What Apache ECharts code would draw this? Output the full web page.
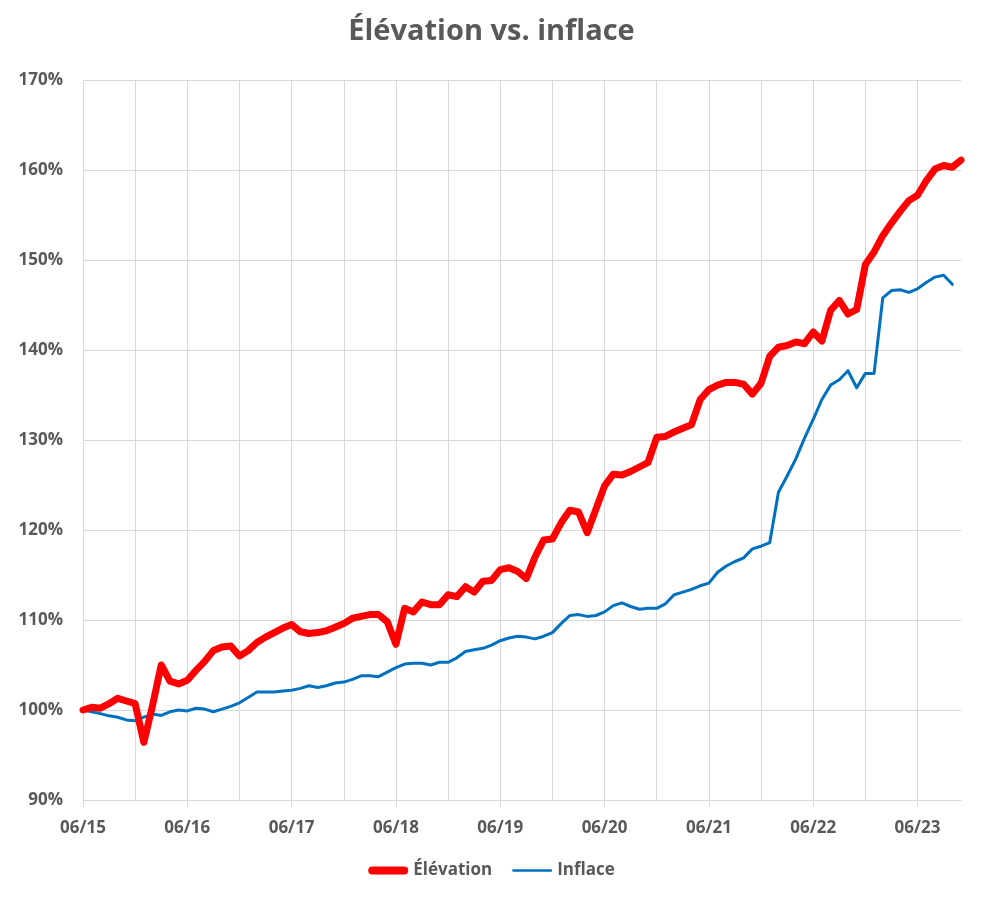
<!DOCTYPE html>
<html>
<head>
<meta charset="utf-8">
<script src="https://cdn.jsdelivr.net/npm/echarts@6/dist/echarts.min.js"></script>
<style>
html,body{margin:0;padding:0;background:#fff;}
#c{width:983px;height:900px;}
</style>
</head>
<body>
<div id="c"></div>
<script>
// Months 06/15 .. 11/23
const months = [];
for (let y = 15; y <= 23; y++) {
  for (let m = 1; m <= 12; m++) {
    if ((y === 15 && m < 6) || (y === 23 && m > 11)) continue;
    months.push(String(m).padStart(2, '0') + '/' + y);
  }
}
const title = 'Élévation vs. inflace';
const seriesNames = ['Élévation', 'Inflace'];
const yTicks = [90, 100, 110, 120, 130, 140, 150, 160, 170];

const elevace = [
  100.0, 100.3, 100.2, 100.7, 101.3, 101.0, 100.7, 96.4, 100.5, 105.0,
  103.2, 102.9, 103.3, 104.4, 105.4, 106.6, 107.0, 107.1, 106.0, 106.6,
  107.5, 108.1, 108.6, 109.1, 109.5, 108.7, 108.5, 108.6, 108.8, 109.2,
  109.6, 110.2, 110.4, 110.6, 110.6, 109.8, 107.3, 111.3, 110.9, 112.0,
  111.7, 111.7, 112.8, 112.6, 113.7, 113.1, 114.3, 114.4, 115.6, 115.8,
  115.4, 114.6, 117.0, 118.9, 119.0, 120.8, 122.2, 122.0, 119.7, 122.3,
  124.9, 126.2, 126.1, 126.5, 127.0, 127.5, 130.3, 130.4, 130.9, 131.3,
  131.7, 134.5, 135.6, 136.1, 136.4, 136.4, 136.2, 135.1, 136.3, 139.3,
  140.3, 140.5, 140.9, 140.7, 142.0, 141.0, 144.4, 145.5, 144.0, 144.5,
  149.5, 150.9, 152.7, 154.1, 155.4, 156.6, 157.2, 158.8, 160.1, 160.5,
  160.3, 161.1
];
const inflace = [
  100.0, 99.8, 99.6, 99.35, 99.2, 98.9, 98.8, 99.2, 99.55, 99.4,
  99.8, 100.0, 99.9, 100.2, 100.1, 99.8, 100.1, 100.4, 100.8, 101.4,
  102.0, 102.0, 102.0, 102.1, 102.2, 102.4, 102.7, 102.5, 102.7, 103.0,
  103.1, 103.4, 103.8, 103.8, 103.7, 104.2, 104.7, 105.1, 105.2, 105.2,
  105.0, 105.3, 105.3, 105.8, 106.5, 106.7, 106.85, 107.2, 107.7, 108.0,
  108.2, 108.1, 107.9, 108.2, 108.6, 109.6, 110.5, 110.6, 110.4, 110.5,
  110.9, 111.6, 111.9, 111.5, 111.2, 111.3, 111.3, 111.8, 112.8, 113.1,
  113.4, 113.8, 114.1, 115.3, 116.0, 116.5, 116.9, 117.9, 118.2, 118.6,
  124.2, 126.0, 127.9, 130.2, 132.3, 134.5, 136.1, 136.7, 137.7, 135.8,
  137.4, 137.4, 145.8, 146.6, 146.7, 146.4, 146.8, 147.5, 148.1, 148.3,
  147.3
];

const FONT = '"Open Sans", "Noto Sans", sans-serif';
const TXT = '#595959';
const GRID = '#D9D9D9';

const chart = echarts.init(document.getElementById('c'), null, {renderer: 'canvas'});
chart.setOption({
  animation: false,
  backgroundColor: '#ffffff',
  title: {
    text: title,
    left: 'center',
    top: 12,
    textStyle: {fontFamily: FONT, fontSize: 29, fontWeight: 'bold', color: TXT}
  },
  legend: {
    bottom: 16,
    left: 'center',
    itemWidth: 40,
    itemHeight: 12,
    itemGap: 20,
    textStyle: {fontFamily: FONT, fontSize: 17, fontWeight: 'bold', color: TXT},
    data: [
      {name: seriesNames[0], icon: 'path://M4,2 L36,2 A4,4 0 0 1 36,10 L4,10 A4,4 0 0 1 4,2 Z'},
      {name: seriesNames[1], icon: 'path://M1,4.8 L39,4.8 A1.2,1.2 0 0 1 39,7.2 L1,7.2 A1.2,1.2 0 0 1 1,4.8 Z'}
    ]
  },
  grid: {left: 83, right: 22, top: 80, bottom: 100, containLabel: false},
  xAxis: {
    type: 'category',
    data: months,
    boundaryGap: false,
    axisLine: {show: true, lineStyle: {color: GRID, width: 1}},
    axisTick: {show: true, length: 7, interval: (i) => i % 12 === 0, lineStyle: {color: GRID}},
    axisLabel: {
      interval: (i) => i % 12 === 0,
      margin: 20,
      fontFamily: FONT, fontSize: 17, fontWeight: 'bold', color: TXT
    },
    splitLine: {show: true, interval: (i) => i % 6 === 0, lineStyle: {color: GRID, width: 1}}
  },
  yAxis: {
    type: 'value',
    min: yTicks[0],
    max: yTicks[yTicks.length - 1],
    interval: 10,
    axisLine: {show: false},
    axisTick: {show: false},
    axisLabel: {
      formatter: '{value}%',
      margin: 20,
      fontFamily: FONT, fontSize: 17, fontWeight: 'bold', color: TXT
    },
    splitLine: {show: true, lineStyle: {color: GRID, width: 1}}
  },
  series: [
    {
      name: seriesNames[0],
      type: 'line',
      data: elevace,
      showSymbol: false,
      symbol: 'none',
      lineStyle: {color: '#FF0000', width: 7, cap: 'round', join: 'round'},
      itemStyle: {color: '#FF0000'},
      z: 3
    },
    {
      name: seriesNames[1],
      type: 'line',
      data: inflace,
      showSymbol: false,
      symbol: 'none',
      lineStyle: {color: '#0070C0', width: 3, cap: 'round', join: 'round'},
      itemStyle: {color: '#0070C0'},
      z: 2
    }
  ]
});
</script>
</body>
</html>
